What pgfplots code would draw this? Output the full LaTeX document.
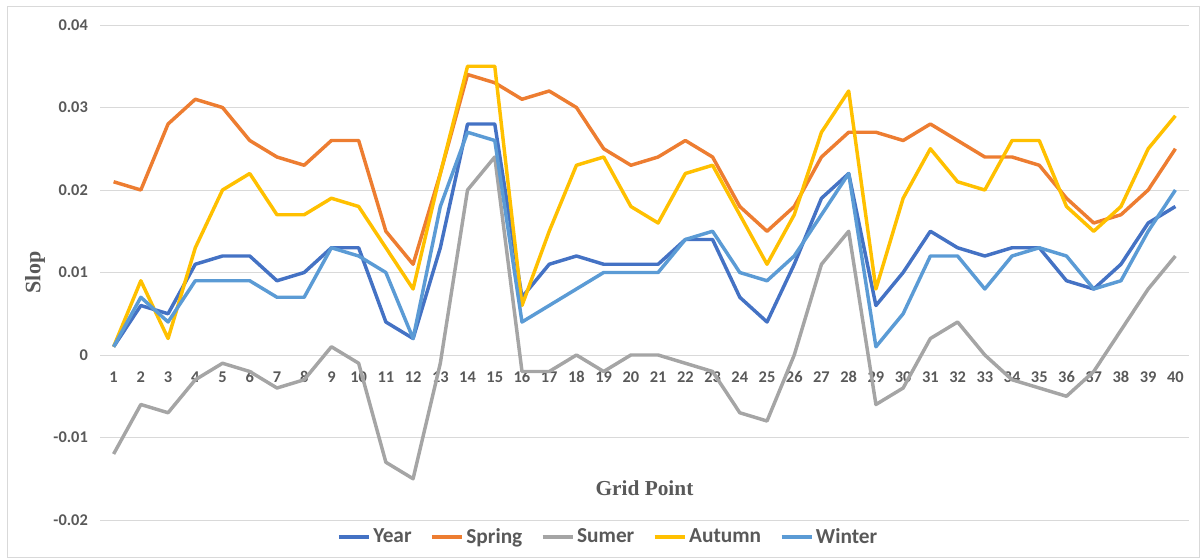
\documentclass[border=0pt]{standalone}
\usepackage{pgfplots}
\usepackage{pgfplotstable}
\pgfplotsset{compat=1.18}
\usepackage{fontspec}
\setmainfont{Carlito}
\newfontfamily\titlefont{Liberation Serif}

\definecolor{cyear}{HTML}{4472C4}
\definecolor{cspring}{HTML}{ED7D31}
\definecolor{csumer}{HTML}{A5A5A5}
\definecolor{cautumn}{HTML}{FFC000}
\definecolor{cwinter}{HTML}{5B9BD5}
\definecolor{txt}{HTML}{595959}
\definecolor{gridc}{HTML}{D9D9D9}

% grid point, year, spring, sumer, autumn, winter
\pgfplotstableread{
g  year   spring sumer  autumn winter
1  0.001  0.021  -0.012 0.001  0.001
2  0.006  0.020  -0.006 0.009  0.007
3  0.005  0.028  -0.007 0.002  0.004
4  0.011  0.031  -0.003 0.013  0.009
5  0.012  0.030  -0.001 0.020  0.009
6  0.012  0.026  -0.002 0.022  0.009
7  0.009  0.024  -0.004 0.017  0.007
8  0.010  0.023  -0.003 0.017  0.007
9  0.013  0.026  0.001  0.019  0.013
10 0.013  0.026  -0.001 0.018  0.012
11 0.004  0.015  -0.013 0.013  0.010
12 0.002  0.011  -0.015 0.008  0.002
13 0.013  0.022  -0.001 0.022  0.018
14 0.028  0.034  0.020  0.035  0.027
15 0.028  0.033  0.024  0.035  0.026
16 0.007  0.031  -0.002 0.006  0.004
17 0.011  0.032  -0.002 0.015  0.006
18 0.012  0.030  0.000  0.023  0.008
19 0.011  0.025  -0.002 0.024  0.010
20 0.011  0.023  0.000  0.018  0.010
21 0.011  0.024  0.000  0.016  0.010
22 0.014  0.026  -0.001 0.022  0.014
23 0.014  0.024  -0.002 0.023  0.015
24 0.007  0.018  -0.007 0.017  0.010
25 0.004  0.015  -0.008 0.011  0.009
26 0.011  0.018  0.000  0.017  0.012
27 0.019  0.024  0.011  0.027  0.017
28 0.022  0.027  0.015  0.032  0.022
29 0.006  0.027  -0.006 0.008  0.001
30 0.010  0.026  -0.004 0.019  0.005
31 0.015  0.028  0.002  0.025  0.012
32 0.013  0.026  0.004  0.021  0.012
33 0.012  0.024  0.000  0.020  0.008
34 0.013  0.024  -0.003 0.026  0.012
35 0.013  0.023  -0.004 0.026  0.013
36 0.009  0.019  -0.005 0.018  0.012
37 0.008  0.016  -0.002 0.015  0.008
38 0.011  0.017  0.003  0.018  0.009
39 0.016  0.020  0.008  0.025  0.015
40 0.018  0.025  0.012  0.029  0.020
}\slopes

\begin{document}
\begin{tikzpicture}
\useasboundingbox (0pt,0pt) rectangle (900.75pt,418.5pt);
\draw[gridc, line width=0.75pt] (5.25pt,0.75pt) rectangle (899.25pt,413.25pt);
\begin{axis}[
  scale only axis,
  width=816.75pt, height=371.25pt,
  at={(75pt,28.5pt)}, anchor=south west,
  xmin=0.5, xmax=40.5,
  ymin=-0.02, ymax=0.04,
  xtick={1,...,40},
  ytick={-0.02,-0.01,0,0.01,0.02,0.03,0.04},
  yticklabels={-0.02,-0.01,0,0.01,0.02,0.03,0.04},
  scaled y ticks=false,
  ymajorgrids,
  grid style={gridc, line width=0.75pt},
  axis line style={draw=none},
  major tick length=0pt,
  tick style={draw=none},
  /pgf/number format/assume math mode=true,
  tick label style={font=\bfseries\fontsize{12.3}{14}\selectfont, text=txt},
  xticklabel style={anchor=center, yshift=107.25pt},
  yticklabel style={anchor=east, xshift=-5.6pt},
  xlabel={Grid Point},
  ylabel={Slop},
  xlabel style={at={(axis description cs:0.5,0.065)}, anchor=center,
    font=\titlefont\bfseries\fontsize{16}{18}\selectfont, text=txt},
  ylabel style={at={(axis description cs:-0.0597,0.5)}, anchor=center,
    font=\titlefont\bfseries\fontsize{16.5}{18}\selectfont, text=txt},
  legend columns=5,
  legend style={draw=none, fill=none,
    at={(axis description cs:0.467,-0.0343)}, anchor=center,
    font=\bfseries\fontsize{16}{18}\selectfont, text=txt,
    nodes={inner xsep=2pt},
    /tikz/every even column/.append style={column sep=12pt}},
  legend image code/.code={\draw[#1] (0pt,0pt) -- (22.5pt,0pt);},
  every axis plot/.append style={line width=2.6pt, line join=round},
]
\addplot[cyear] table[x=g, y=year] {\slopes};
\addlegendentry{Year}
\addplot[cspring] table[x=g, y=spring] {\slopes};
\addlegendentry{Spring}
\addplot[csumer] table[x=g, y=sumer] {\slopes};
\addlegendentry{Sumer}
\addplot[cautumn] table[x=g, y=autumn] {\slopes};
\addlegendentry{Autumn}
\addplot[cwinter] table[x=g, y=winter] {\slopes};
\addlegendentry{Winter}
\end{axis}
\end{tikzpicture}
\end{document}
